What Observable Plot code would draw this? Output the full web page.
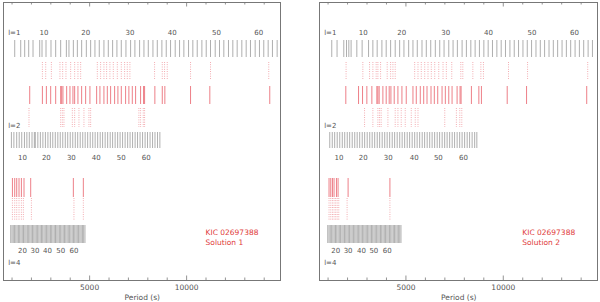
<!DOCTYPE html>
<html><head><meta charset="utf-8">
<script src="https://cdn.jsdelivr.net/npm/d3@7"></script>
<script src="https://cdn.jsdelivr.net/npm/@observablehq/plot@0.6"></script>
<style>
html,body{margin:0;padding:0;background:#fff;}
#wrap{position:relative;width:600px;height:302px;}
#p1{position:absolute;left:0;top:0;}
#p2{position:absolute;left:300px;top:0;}
</style></head>
<body><div id="wrap"><div id="p1"></div><div id="p2"></div></div>
<script>
// ---------- DATA (periods in seconds) ----------
// Observed periods (solid red, same in both panels)
const obsPeriods = [1911,2565,2771,2992,3250,3507,3559,3625,3816,3986,4140,4228,4398,4588,4794,5016,5361,5531,5737,5912,6082,6288,6458,6633,6855,7024,7200,7370,7627,7780,7833,8363,8745,8878,10202,11196,14286];

// Solution 1
const s1_l1Model = [1138,1447,1653,1859,2082,2426,2545,2751,3008,3250,3507,3801,3935,4161,4367,4589,4830,5052,5274,5497,5737,5963,6185,6407,6632,6872,7112,7334,7576,7800,8024,8264,8488,8725,8950,9172,9412,9636,9858,10099,10321,10547,10787,11011,11232,11474,11696,11918,12159,12382,12606,12846,13071,13292,13534,13756,13978,14204,14425,14667];
const s1_l1Fit = [2565,2735,3028,3471,3610,3780,4022,4228,4398,4537,5397,5567,5737,5876,6046,6221,6427,6633,6803,6942,7076,8348,8745,8863,9002,10202,11232,14234];
const s1_l2Fit = [1874,3507,3595,3677,4109,4228,4449,4707,4964,5052,7539,7627,7766,7833];
const s1_l2Model = [968,1095,1240,1370,1500,1640,1765,1890,2030,2150,2200,2330,2460,2590,2720,2850,2975,3100,3230,3360,3485,3615,3745,3870,4000,4130,4260,4385,4515,4645,4770,4900,5030,5160,5285,5415,5545,5670,5800,5930,6060,6185,6315,6445,6570,6700,6830,6960,7085,7215,7345,7470,7600,7730,7860,7985,8115,8245,8370,8500,8621];
const s1_l4Obs = [1020,1138,1241,1360,1483,1617,1962,4161,4676];
const s1_l4Fit = [1020,1138,1241,1360,1483,1585,1998,4192,4676];
const s1_l4Model = [932,999,1063,1131,1195,1262,1329,1393,1461,1526,1591,1659,1723,1790,1857,1921,1988,2053,2121,2186,2251,2319,2383,2450,2517,2581,2648,2713,2781,2846,2911,2979,3043,3110,3177,3241,3308,3373,3441,3506,3571,3639,3703,3770,3837,3901,3968,4033,4101,4166,4231,4299,4363,4430,4497,4561,4628,4693,4760];

// Solution 2
const s2_l1Model = [1190,1462,1808,1947,2065,2183,2477,2750,3080,3301,3522,3765,3986,4213,4449,4676,4898,5140,5361,5582,5825,6046,6273,6509,6736,6958,7200,7421,7642,7885,8106,8333,8554,8775,9002,9224,9445,9671,9893,10114,10341,10563,10784,11011,11232,11453,11680,11902,12123,12350,12571,12792,13019,13241,13462,13689,13910,14131,14358,14580];
const s2_l1Fit = [1926,2786,3131,3301,3471,3559,3698,4037,4213,4331,4449,5449,5619,5788,5964,6134,6303,6479,6685,6906,7076,7354,7818,7921,8436,8848,8981,10269,11247,14337];
const s2_l2Fit = [2874,3301,3559,3646,3728,4074,4449,4589,4758,4964,5273,5479,5619,6994,7591,7766,7869];
const s2_l2Model = [1087,1215,1340,1470,1600,1730,1855,1985,2110,2240,2370,2495,2625,2755,2880,3010,3140,3265,3395,3525,3650,3780,3910,4035,4165,4295,4420,4550,4680,4805,4935,5065,5190,5320,5450,5575,5705,5835,5960,6090,6220,6345,6475,6605,6730,6860,6990,7115,7245,7375,7500,7630,7760,7885,8015,8145,8270,8400,8530,8642];
const s2_l4Obs = [1050,1138,1226,1308,1431,1514,2029,4177];
const s2_l4Fit = [1050,1138,1226,1308,1390,1470,1550,1978,4177];
const s2_l4Model = [984,1051,1115,1183,1248,1314,1381,1445,1513,1578,1643,1711,1775,1842,1909,1973,2040,2105,2173,2238,2303,2371,2435,2502,2569,2633,2700,2765,2833,2898,2963,3031,3095,3162,3229,3293,3360,3425,3493,3558,3623,3691,3755,3822,3889,3953,4020,4085,4153,4218,4283,4351,4415,4482,4549,4613,4680,4745];

// Radial-order labels
const orderL1 = [10,20,30,40,50,60];
const orderL2 = [10,20,30,40,50,60];
const orderL4 = [20,30,40,50,60];
const s1_l1LabelP = [2647,4795,7077,9259,11541,13720];
const s1_l2LabelP = [1535,2770,4058,5345,6633,7920];
const s1_l4LabelP = [1535,2183,2822,3507,4192];
const s2_l1LabelP = [2801,4779,7045,9239,11474,13653];
const s2_l2LabelP = [1565,2801,4089,5428,6664,7951];
const s2_l4LabelP = [1396,2029,2719,3352,4037];

const minorTicks = [1000,2000,3000,4000,6000,7000,8000,9000,11000,12000,13000,14000];
const majorTicks = [5000,10000];
const starName = "KIC 02697388";
const xTitle = "Period (s)";

// ---------- LAYOUT ----------
const ROW = {l1grey:[40,57], fit1:[62,80], obs:[86,104], fit2:[108,127], l2grey:[132,148],
             l4obs:[178,197], l4fit:[198,220], l4grey:[225,243]};
const GREY = "#9a9a9a", RED = "#e8606a", TXT = "#555";
const FONT = "DejaVu Sans, sans-serif";

function panel(sol) {
  const solid = (data, r, c, w) => Plot.ruleX(data, {x: d => d, y1: r[0], y2: r[1], stroke: c, strokeWidth: w});
  const dotted = (data, r) => Plot.ruleX(data, {x: d => d, y1: r[0], y2: r[1], stroke: RED, strokeWidth: 0.8, strokeOpacity: 0.8, strokeDasharray: "0.8,1.5"});
  const lab = (P, K, y) => Plot.text(P, {x: d => d, y, text: (d, i) => String(K[i]), fill: TXT, fontSize: 7});
  return Plot.plot({
    width: 300, height: 302,
    marginTop: 2, marginBottom: 22,
    marginLeft: sol.ml, marginRight: sol.mr,
    x: {domain: [560, 14840], axis: null},
    y: {domain: [280, 2], axis: null},
    style: {fontFamily: FONT, background: "#fff", overflow: "visible"},
    marks: [
      Plot.frame({stroke: "#777", strokeWidth: 1}),
      // axis ticks bottom and top
      Plot.ruleX(minorTicks, {x: d => d, y1: 280, y2: 277.5, stroke: "#777", strokeWidth: 0.8}),
      Plot.ruleX(majorTicks, {x: d => d, y1: 280, y2: 275.5, stroke: "#777", strokeWidth: 0.8}),
      Plot.ruleX(minorTicks, {x: d => d, y1: 2, y2: 4.5, stroke: "#777", strokeWidth: 0.8}),
      Plot.ruleX(majorTicks, {x: d => d, y1: 2, y2: 6.5, stroke: "#777", strokeWidth: 0.8}),
      Plot.text(majorTicks, {x: d => d, y: 287.5, text: d => String(d), fill: TXT, fontSize: 7.5}),
      Plot.text([xTitle], {x: 7714, y: 297.5, text: d => d, fill: TXT, fontSize: 7.5}),
      // l = 1
      solid(sol.l1Model, ROW.l1grey, GREY, 0.8),
      dotted(sol.l1Fit, ROW.fit1),
      solid(obsPeriods, ROW.obs, RED, 0.8),
      dotted(sol.l2Fit, ROW.fit2),
      lab(sol.l1LabelP, orderL1, 32.5),
      Plot.text(["l=1"], {x: 800, y: 32.5, text: d => d, textAnchor: "start", fill: TXT, fontSize: 7}),
      // l = 2
      solid(sol.l2Model, ROW.l2grey, GREY, 0.8),
      lab(sol.l2LabelP, orderL2, 157.5),
      Plot.text(["l=2"], {x: 800, y: 125.5, text: d => d, textAnchor: "start", fill: TXT, fontSize: 7}),
      // l = 4
      solid(sol.l4Obs, ROW.l4obs, RED, 0.8),
      dotted(sol.l4Fit, ROW.l4fit),
      solid(sol.l4Model, ROW.l4grey, GREY, 0.8),
      lab(sol.l4LabelP, orderL4, 250.5),
      Plot.text(["l=4"], {x: 800, y: 262, text: d => d, textAnchor: "start", fill: TXT, fontSize: 7}),
      // star label
      Plot.text([starName], {x: 10975, y: 232.5, text: d => d, textAnchor: "start", fill: "#e03a3a", fontSize: 7.5}),
      Plot.text([sol.name], {x: 10975, y: 242.5, text: d => d, textAnchor: "start", fill: "#e03a3a", fontSize: 7.5})
    ]
  });
}

document.getElementById("p1").append(panel({
  ml: 3, mr: 20, name: "Solution 1",
  l1Model: s1_l1Model, l1Fit: s1_l1Fit, l2Fit: s1_l2Fit, l2Model: s1_l2Model,
  l4Obs: s1_l4Obs, l4Fit: s1_l4Fit, l4Model: s1_l4Model,
  l1LabelP: s1_l1LabelP, l2LabelP: s1_l2LabelP, l4LabelP: s1_l4LabelP
}));
document.getElementById("p2").append(panel({
  ml: 19, mr: 3, name: "Solution 2",
  l1Model: s2_l1Model, l1Fit: s2_l1Fit, l2Fit: s2_l2Fit, l2Model: s2_l2Model,
  l4Obs: s2_l4Obs, l4Fit: s2_l4Fit, l4Model: s2_l4Model,
  l1LabelP: s2_l1LabelP, l2LabelP: s2_l2LabelP, l4LabelP: s2_l4LabelP
}));
</script></body></html>
